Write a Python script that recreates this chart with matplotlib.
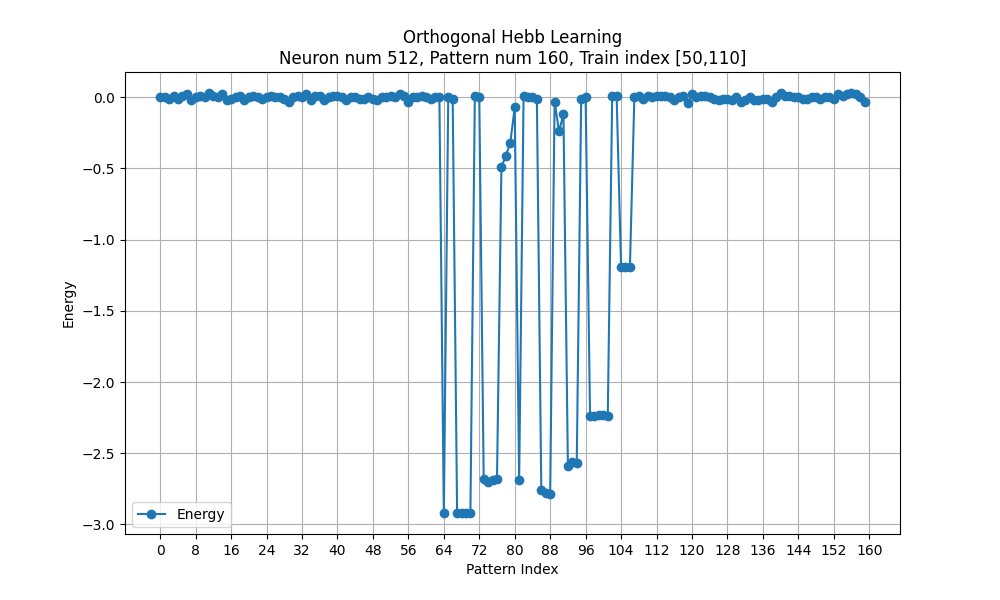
import matplotlib
matplotlib.use("Agg")
import matplotlib.pyplot as plt
import numpy as np

# energy per pattern index
energy_0_59 = [0.00, 0.00, -0.01, 0.01, -0.01, 0.01, 0.02, -0.02, 0.00, 0.01,
               0.00, 0.03, 0.01, 0.00, 0.02, -0.02, -0.01, 0.00, 0.01, -0.02,
               0.00, 0.01, 0.00, -0.01, 0.00, 0.01, 0.00, 0.00, -0.01, -0.03,
               0.00, 0.01, 0.00, 0.02, -0.02, 0.01, 0.01, -0.02, 0.00, 0.01,
               0.01, 0.00, -0.02, 0.00, 0.00, -0.01, -0.01, 0.00, -0.01, -0.02,
               0.00, 0.00, 0.01, 0.00, 0.02, 0.01, -0.03, 0.00, 0.00, 0.01]
energy_60_109 = [0.00, -0.01, 0.00, 0.00, -2.92, 0.00, -0.01, -2.92, -2.92, -2.92,
                 -2.92, 0.01, 0.00, -2.68, -2.70, -2.69, -2.68, -0.49, -0.41, -0.32,
                 -0.07, -2.69, 0.01, 0.00, 0.00, -0.01, -2.76, -2.78, -2.79, -0.03,
                 -0.24, -0.12, -2.59, -2.56, -2.57, -0.01, 0.00, -2.24, -2.24, -2.23,
                 -2.23, -2.24, 0.01, 0.01, -1.19, -1.19, -1.19, 0.00, 0.01, -0.01]
energy_110_159 = [0.01, 0.00, 0.01, 0.01, 0.01, 0.00, -0.02, 0.00, 0.01, -0.04,
                  0.02, 0.00, 0.01, 0.01, 0.00, -0.01, -0.02, -0.01, -0.01, -0.02,
                  0.00, -0.03, -0.02, 0.00, -0.02, -0.02, -0.01, -0.01, -0.03, 0.00,
                  0.03, 0.01, 0.01, 0.00, 0.00, -0.01, -0.01, 0.00, 0.00, -0.01,
                  0.00, 0.00, -0.01, 0.02, 0.01, 0.02, 0.03, 0.02, 0.00, -0.03]
energy = energy_0_59 + energy_60_109 + energy_110_159
idx = np.arange(len(energy))

fig, ax = plt.subplots(figsize=(10, 6), dpi=100)
ax.plot(idx, energy, marker="o", label="Energy")
ax.set_title("Orthogonal Hebb Learning\nNeuron num 512, Pattern num 160, Train index [50,110]")
ax.set_xlabel("Pattern Index")
ax.set_ylabel("Energy")
ax.set_xticks(np.arange(0, 161, 8))
ax.grid(True)
ax.legend(loc="lower left")
fig.savefig("out.png")
